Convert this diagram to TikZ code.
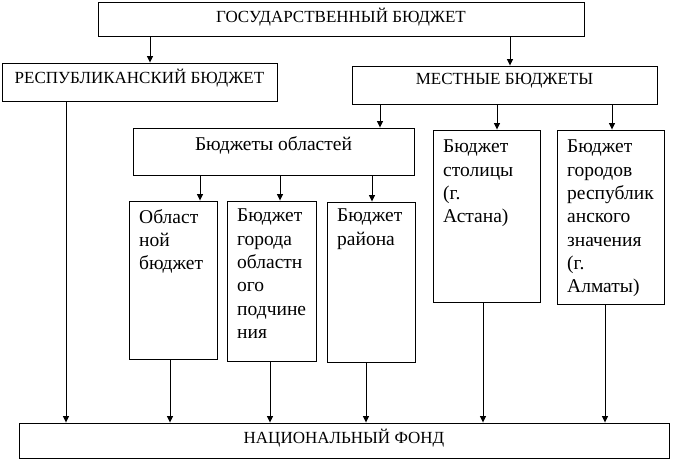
\documentclass[tikz,border=0pt]{standalone}
\usepackage{fontspec}
\setmainfont{Liberation Serif}
\usetikzlibrary{arrows.meta, positioning, calc}
\definecolor{trait}{HTML}{000000}
\tikzset{
  cadre/.style={rectangle, draw=trait, line width=0.9pt, inner sep=0pt},
  titre/.style={font=\fontsize{17}{19}\selectfont, text=trait, inner sep=0pt},
  texte/.style={font=\fontsize{19.5}{23.3}\selectfont, text=trait, align=left,
    inner sep=0pt, anchor=north west},
  fleche/.style={-{Triangle[length=6.5pt, width=6pt]}, line width=0.9pt, color=trait}
}
\begin{document}
\begin{tikzpicture}[x=1pt, y=-1pt]
  \useasboundingbox (0,0) rectangle (675,459);

  % niveau 1
  \node[cadre, minimum width=486pt, minimum height=34pt] (gos) at (341,19) {};
  \node[titre] (gostxt) at (341,17) {ГОСУДАРСТВЕННЫЙ БЮДЖЕТ};

  % niveau 2
  \node[cadre, minimum width=275pt, minimum height=38pt] (resp) at (139.5,82) {};
  \node[titre] (resptxt) at (139.5,78) {РЕСПУБЛИКАНСКИЙ БЮДЖЕТ};
  \node[cadre, minimum width=305pt, minimum height=38pt] (mest) at (504.5,85) {};
  \node[titre] (mesttxt) at (504.5,81) {МЕСТНЫЕ БЮДЖЕТЫ};

  % niveau 3
  \node[cadre, minimum width=281pt, minimum height=47pt] (obl) at (273.5,151.5) {};
  \node[texte, anchor=north] (obltxt) at (273.5,136) {Бюджеты областей};
  \node[cadre, minimum width=107pt, minimum height=172pt] (stol) at (486.5,216) {};
  \node[texte] (stoltxt) at (443,140) {Бюджет\\столицы\\(г.\\Астана)};
  \node[cadre, minimum width=107pt, minimum height=174pt] (gorr) at (610.5,217) {};
  \node[texte] (gorrtxt) at (567,140) {Бюджет\\городов\\республик\\анского\\значения\\(г.\\Алматы)};

  % niveau 4
  \node[cadre, minimum width=88pt, minimum height=158pt] (oblb) at (173,280) {};
  \node[texte] (oblbtxt) at (139,209) {Област\\ной\\бюджет};
  \node[cadre, minimum width=89pt, minimum height=160pt] (gorobl) at (271.5,281) {};
  \node[texte] (gorobltxt) at (237,209) {Бюджет\\города\\областн\\ого\\подчине\\ния};
  \node[cadre, minimum width=88pt, minimum height=160pt] (rayon) at (371,282) {};
  \node[texte] (rayontxt) at (337,209) {Бюджет\\района};

  % fonds
  \node[cadre, minimum width=650pt, minimum height=35pt] (nf) at (344,440.5) {};
  \node[titre] (nftxt) at (344,438) {НАЦИОНАЛЬНЫЙ ФОНД};

  % fleches vers le bas
  \draw[fleche] ([xshift=10.5pt]resp.north |- gos.south) -- ([xshift=10.5pt]resp.north);
  \draw[fleche] ([xshift=5.5pt]mest.north |- gos.south) -- ([xshift=5.5pt]mest.north);
  \draw[fleche] ([xshift=106.5pt]obl.north |- mest.south) -- ([xshift=106.5pt]obl.north);
  \draw[fleche] ([xshift=10.5pt]stol.north |- mest.south) -- ([xshift=10.5pt]stol.north);
  \draw[fleche] ([xshift=1.5pt]gorr.north |- mest.south) -- ([xshift=1.5pt]gorr.north);
  \draw[fleche] ([xshift=27pt]oblb.north |- obl.south) -- ([xshift=27pt]oblb.north);
  \draw[fleche] ([xshift=8.5pt]gorobl.north |- obl.south) -- ([xshift=8.5pt]gorobl.north);
  \draw[fleche] ([xshift=1pt]rayon.north |- obl.south) -- ([xshift=1pt]rayon.north);

  % fleches vers le fonds
  \draw[fleche] ([xshift=-73.5pt]resp.south) -- ([xshift=-73.5pt]resp.south |- nf.north);
  \draw[fleche] ([xshift=-3pt]oblb.south) -- ([xshift=-3pt]oblb.south |- nf.north);
  \draw[fleche] ([xshift=-1.5pt]gorobl.south) -- ([xshift=-1.5pt]gorobl.south |- nf.north);
  \draw[fleche] ([xshift=-5pt]rayon.south) -- ([xshift=-5pt]rayon.south |- nf.north);
  \draw[fleche] ([xshift=-3.5pt]stol.south) -- ([xshift=-3.5pt]stol.south |- nf.north);
  \draw[fleche] ([xshift=-5.5pt]gorr.south) -- ([xshift=-5.5pt]gorr.south |- nf.north);
\end{tikzpicture}
\end{document}
